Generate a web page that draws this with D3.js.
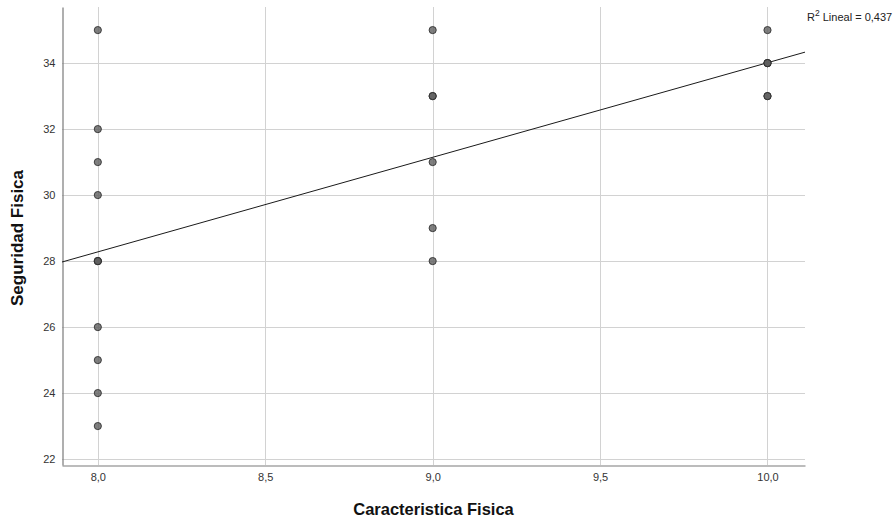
<!DOCTYPE html>
<html>
<head>
<meta charset="utf-8">
<script src="https://cdn.jsdelivr.net/npm/d3@7"></script>
<style>
  html, body { margin: 0; padding: 0; background: #fff; }
  svg { display: block; font-family: "Liberation Sans", Arial, sans-serif; }
</style>
</head>
<body>
<svg id="chart" width="895" height="520"></svg>
<script>
// Observations: Caracteristica Fisica (x) vs Seguridad Fisica (y)
const caracteristica = [8, 8, 8, 8, 8, 8, 8, 8, 8, 8, 8,
                        9, 9, 9, 9, 9, 9,
                        10, 10, 10, 10, 10, 10];
const seguridad      = [35, 32, 31, 30, 28, 28, 28, 26, 25, 24, 23,
                        35, 33, 33, 31, 29, 28,
                        35, 34, 34, 34, 33, 33];
const xTicks = [8.0, 8.5, 9.0, 9.5, 10.0];
const yTicks = [22, 24, 26, 28, 30, 32, 34];
const r2Label = "0,437";

const svg = d3.select("#chart");
const margin = { left: 62, right: 90, top: 7, bottom: 55 };
const W = 895, H = 520;

const x = d3.scaleLinear().domain([7.893, 10.112]).range([margin.left, W - margin.right]);
const y = d3.scaleLinear().domain([21.82, 35.7]).range([H - margin.bottom, margin.top]);

const fmt = d => d3.format(".1f")(d).replace(".", ",");

// grid lines
const grid = svg.append("g");
grid.selectAll("line.h").data(yTicks).join("line")
  .attr("x1", margin.left).attr("x2", W - margin.right)
  .attr("y1", d => Math.round(y(d)) + 0.5).attr("y2", d => Math.round(y(d)) + 0.5)
  .attr("stroke", "#d2d2d2").attr("stroke-width", 1);
grid.selectAll("line.v").data(xTicks).join("line")
  .attr("y1", margin.top).attr("y2", H - margin.bottom)
  .attr("x1", d => Math.round(x(d)) + 0.5).attr("x2", d => Math.round(x(d)) + 0.5)
  .attr("stroke", "#d2d2d2").attr("stroke-width", 1);

// axes
const xAxis = svg.append("g")
  .attr("transform", `translate(0,${H - margin.bottom + 0.5})`)
  .call(d3.axisBottom(x).tickValues(xTicks).tickFormat(fmt).tickSize(0).tickPadding(8));
const yAxis = svg.append("g")
  .attr("transform", `translate(${margin.left + 0.5},0)`)
  .call(d3.axisLeft(y).tickValues(yTicks).tickFormat(d => d).tickSize(0).tickPadding(7));
[xAxis, yAxis].forEach(a => {
  a.select(".domain").attr("stroke", "#7a7a7a").attr("stroke-width", 1.2);
  a.selectAll("text").attr("font-size", 11).attr("fill", "#333")
    .attr("font-family", "Liberation Sans, Arial, sans-serif");
});

// least-squares fit line
const n = caracteristica.length;
const mx = d3.mean(caracteristica), my = d3.mean(seguridad);
let sxy = 0, sxx = 0;
for (let i = 0; i < n; i++) {
  sxy += (caracteristica[i] - mx) * (seguridad[i] - my);
  sxx += (caracteristica[i] - mx) ** 2;
}
const slope = sxy / sxx, intercept = my - slope * mx;
const [x0, x1] = x.domain();
svg.append("line")
  .attr("x1", x(x0)).attr("y1", y(intercept + slope * x0))
  .attr("x2", x(x1)).attr("y2", y(intercept + slope * x1))
  .attr("stroke", "#1a1a1a").attr("stroke-width", 1);

// points
svg.append("g").selectAll("circle")
  .data(d3.range(n)).join("circle")
  .attr("cx", i => x(caracteristica[i]))
  .attr("cy", i => y(seguridad[i]))
  .attr("r", 3.6)
  .attr("fill", "#5f5f5f").attr("fill-opacity", 0.8)
  .attr("stroke", "#2b2b2b").attr("stroke-width", 1).attr("stroke-opacity", 0.85);

// R² annotation
const ann = svg.append("text").attr("x", 807).attr("y", 21)
  .attr("font-size", 11).attr("fill", "#222");
ann.append("tspan").text("R");
ann.append("tspan").attr("dy", -5).attr("font-size", 8.5).text("2");
ann.append("tspan").attr("dy", 5).text(" Lineal = " + r2Label);

// axis titles
svg.append("text")
  .attr("x", (margin.left + W - margin.right) / 2).attr("y", 515)
  .attr("text-anchor", "middle").attr("font-size", 16.5).attr("font-weight", "bold")
  .attr("fill", "#111").text("Caracteristica Fisica");
svg.append("text")
  .attr("transform", `translate(23,238) rotate(-90)`)
  .attr("text-anchor", "middle").attr("font-size", 17).attr("font-weight", "bold")
  .attr("fill", "#111").text("Seguridad Fisica");
</script>
</body>
</html>
